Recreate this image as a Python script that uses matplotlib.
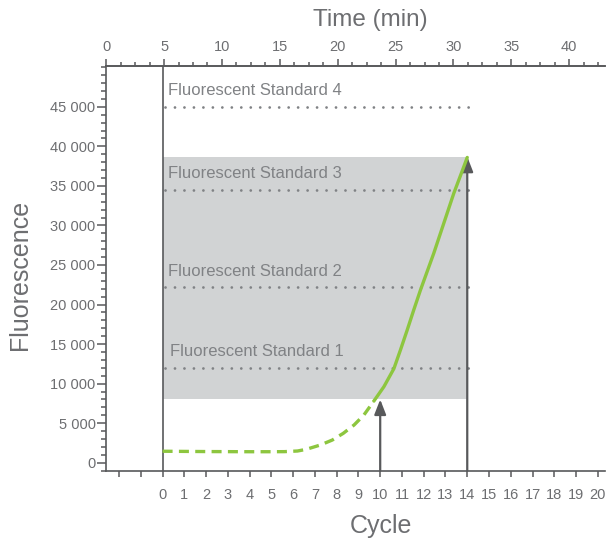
import matplotlib
matplotlib.use("Agg")
import matplotlib.pyplot as plt
from matplotlib.ticker import MultipleLocator, FixedLocator, FuncFormatter

plt.rcParams['font.family'] = ['Liberation Sans', 'DejaVu Sans']

# ---- data ----
# early (dashed) part of the amplification curve: cycle, fluorescence
early_cycle = [0.0, 1.0, 2.0, 3.0, 4.0, 5.0, 5.6, 6.2, 6.6, 7.25, 7.8, 8.3, 8.8, 9.25, 9.71]
early_fluor = [1450, 1430, 1410, 1400, 1390, 1390, 1400, 1480, 1690, 2240, 2870, 3710, 4770, 6030, 7800]
# later (solid) part
late_cycle = [9.71, 10.17, 10.63, 10.93, 11.24, 11.54, 11.85, 12.46, 12.92, 13.38, 13.77, 14.0]
late_fluor = [7800, 9610, 11900, 14250, 16770, 19300, 21830, 26470, 30260, 34050, 36900, 38600]

standard_names = ["Fluorescent Standard 1", "Fluorescent Standard 2",
                  "Fluorescent Standard 3", "Fluorescent Standard 4"]
standard_levels = [12000, 22200, 34500, 45000]

window_cycles = [0, 14]
window_fluor = [8000, 38700]
arrow_cycles = [10, 14]
arrow_tops = [8000, 38700]

cycle_ticks = list(range(-2, 21))
cycle_labels = [str(c) if c >= 0 else "" for c in cycle_ticks]
time_ticks = [0, 5, 10, 15, 20, 25, 30, 35, 40]
y_ticks = [0, 5000, 10000, 15000, 20000, 25000, 30000, 35000, 40000, 45000]

MIN_PER_CYCLE = 1.88
TIME_OFFSET = 4.87

# ---- style ----
TEXT = "#6d6e71"
SPINE = "#58595b"
GREEN = "#8dc63f"
DOT = "#808285"
SHADE = "#d1d3d4"

fig = plt.figure(figsize=(6.07, 5.41), dpi=100)
ax = fig.add_axes([106/607, 1-470.7/541, (605-106)/607, (470.7-65.7)/541])

ax.set_xlim(-2.6, 20.33)
ax.set_ylim(-1010, 50200)

# shaded window
ax.fill_between(window_cycles, window_fluor[0], window_fluor[1], color=SHADE, lw=0, zorder=1)

# vertical line at cycle 0
ax.axvline(0, color=SPINE, lw=1.2, zorder=3)

# standards
for name, lvl in zip(standard_names, standard_levels):
    ax.plot([0.12, 14.1], [lvl, lvl], color=DOT, lw=2.0, linestyle=(0, (0.01, 3.4)),
            dash_capstyle='round', zorder=2)
    ax.text(0.25 if lvl != 12000 else 0.32, lvl + 1450, name, fontsize=12, color=DOT,
            ha='left', va='baseline', zorder=4)

# arrows
for c, top in zip(arrow_cycles, arrow_tops):
    ax.annotate("", xy=(c, top), xytext=(c, -1010),
                arrowprops=dict(arrowstyle="-|>,head_length=0.9,head_width=0.35",
                                color=SPINE, lw=1.6, shrinkA=0, shrinkB=0),
                zorder=3, annotation_clip=False)

# curve
ax.plot(early_cycle, early_fluor, color=GREEN, lw=2.4, linestyle=(0, (3.0, 1.9)),
        zorder=5, solid_capstyle='butt')
ax.plot(late_cycle, late_fluor, color=GREEN, lw=2.4, zorder=5, solid_capstyle='round',
        solid_joinstyle='round')

# spines
for s in ['left', 'bottom', 'top']:
    ax.spines[s].set_color(SPINE)
    ax.spines[s].set_linewidth(1.2)
ax.spines['right'].set_visible(False)

# y axis
ax.yaxis.set_major_locator(FixedLocator(y_ticks))
ax.yaxis.set_minor_locator(MultipleLocator(1000))
ax.yaxis.set_major_formatter(FuncFormatter(lambda v, p: f"{int(v):,}".replace(",", " ")))
ax.tick_params(axis='y', which='major', length=6.5, width=1.1, color=SPINE,
               labelsize=10.5, labelcolor=TEXT, pad=1)
ax.tick_params(axis='y', which='minor', length=3.8, width=1.1, color=SPINE)

# bottom axis (cycles)
ax.xaxis.set_major_locator(FixedLocator(cycle_ticks))
ax.set_xticklabels(cycle_labels)
ax.tick_params(axis='x', which='major', length=4.3, width=1.1, color=SPINE,
               labelsize=10.5, labelcolor=TEXT, pad=8)

# top axis (time)
sec = ax.secondary_xaxis('top', functions=(lambda c: TIME_OFFSET + MIN_PER_CYCLE * c,
                                           lambda t: (t - TIME_OFFSET) / MIN_PER_CYCLE))
sec.xaxis.set_major_locator(FixedLocator(time_ticks))
sec.xaxis.set_minor_locator(MultipleLocator(1.25))
sec.spines['top'].set_color(SPINE)
sec.spines['top'].set_linewidth(1.2)
sec.tick_params(axis='x', which='major', length=5.3, width=1.1, color=SPINE,
                labelsize=10.5, labelcolor=TEXT, pad=3)
sec.tick_params(axis='x', which='minor', length=2.9, width=1.1, color=SPINE)

# labels
fig.text(370/607, 1-20/541, "Time (min)", fontsize=17.5, color=TEXT, ha='center', va='center')
fig.text(381/607, 1-526/541, "Cycle", fontsize=18, color=TEXT, ha='center', va='center')
fig.text(20/607, 1-275/541, "Fluorescence", fontsize=18, color=TEXT, ha='center', va='center',
         rotation=90)

fig.savefig("out.png", dpi=100)
